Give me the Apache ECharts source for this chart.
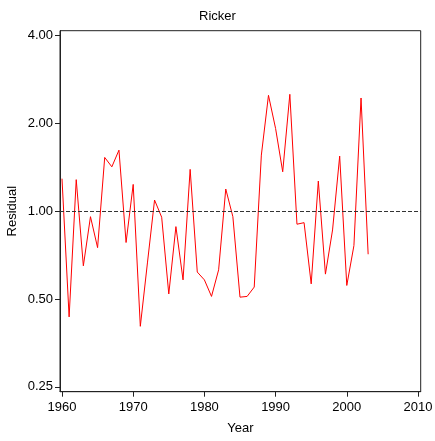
<!DOCTYPE html>
<html>
<head>
<meta charset="utf-8">
<script src="https://cdn.jsdelivr.net/npm/echarts@6/dist/echarts.min.js"></script>
<style>
  html, body { margin: 0; padding: 0; background: #fff; }
  #chart { width: 435px; height: 441px; }
</style>
</head>
<body>
<div id="chart"></div>
<script>
// Ricker model residuals by year (log scale)
const years = [
  1960, 1961, 1962, 1963, 1964, 1965, 1966, 1967, 1968, 1969,
  1970, 1971, 1972, 1973, 1974, 1975, 1976, 1977, 1978, 1979,
  1980, 1981, 1982, 1983, 1984, 1985, 1986, 1987, 1988, 1989,
  1990, 1991, 1992, 1993, 1994, 1995, 1996, 1997, 1998, 1999,
  2000, 2001, 2002, 2003
];
const residuals = [
  1.29, 0.434, 1.28, 0.649, 0.956, 0.749, 1.525, 1.416, 1.615, 0.78,
  1.233, 0.403, 0.664, 1.09, 0.952, 0.52, 0.884, 0.581, 1.388, 0.618,
  0.581, 0.51, 0.629, 1.189, 0.956, 0.507, 0.51, 0.549, 1.553, 2.488,
  1.915, 1.362, 2.508, 0.901, 0.912, 0.563, 1.266, 0.608, 0.861, 1.541,
  0.556, 0.761, 2.436, 0.711
];
const yearTicks = [1960, 1970, 1980, 1990, 2000, 2010];
const residualTicks = [0.25, 0.5, 1, 2, 4];
const referenceLevel = 1;

const font = 'Liberation Sans, Arial, sans-serif';
const chart = echarts.init(document.getElementById('chart'));

chart.setOption({
  animation: false,
  backgroundColor: '#fff',
  title: {
    text: 'Ricker',
    left: 'center',
    top: 5,
    textStyle: { fontFamily: font, fontSize: 13, fontWeight: 'normal', color: '#000' }
  },
  grid: {
    left: 60, right: 14.3, top: 30.7, bottom: 49.3,
    outerBoundsMode: 'none',
    containLabel: false,
    show: true, borderColor: '#222', borderWidth: 1, backgroundColor: 'transparent'
  },
  xAxis: {
    type: 'value',
    min: 1959.72,
    max: 2010.38,
    name: 'Year',
    nameLocation: 'middle',
    nameGap: 30,
    nameMoveOverlap: false,
    nameTextStyle: { fontFamily: font, fontSize: 13, color: '#000' },
    axisLine: { show: true, lineStyle: { color: '#222', width: 1 } },
    axisTick: { show: true, length: 5, customValues: yearTicks, lineStyle: { color: '#222' } },
    axisLabel: {
      customValues: yearTicks, margin: 9,
      fontFamily: font, fontSize: 13, color: '#000',
      formatter: v => String(Math.round(v))
    },
    splitLine: { show: false }
  },
  yAxis: {
    type: 'log',
    logBase: 2,
    min: 0.2407,
    max: 4.14,
    name: 'Residual',
    nameLocation: 'middle',
    nameGap: 41,
    nameMoveOverlap: false,
    nameTextStyle: { fontFamily: font, fontSize: 13, color: '#000' },
    axisLine: { show: true, lineStyle: { color: '#222', width: 1 } },
    axisTick: { show: true, length: 5, customValues: residualTicks, lineStyle: { color: '#222' } },
    axisLabel: {
      customValues: residualTicks,
      margin: 7,
      fontFamily: font, fontSize: 13, color: '#000',
      formatter: v => Number(v).toFixed(2)
    },
    splitLine: { show: false }
  },
  series: [{
    type: 'line',
    data: years.map((y, i) => [y, residuals[i]]),
    showSymbol: false,
    symbol: 'none',
    lineStyle: { color: '#ff0000', width: 1 },
    markLine: {
      silent: true,
      symbol: 'none',
      label: { show: false },
      lineStyle: { color: '#333', width: 1, type: [4, 2] },
      data: [{ yAxis: referenceLevel }]
    }
  }]
});
</script>
</body>
</html>
